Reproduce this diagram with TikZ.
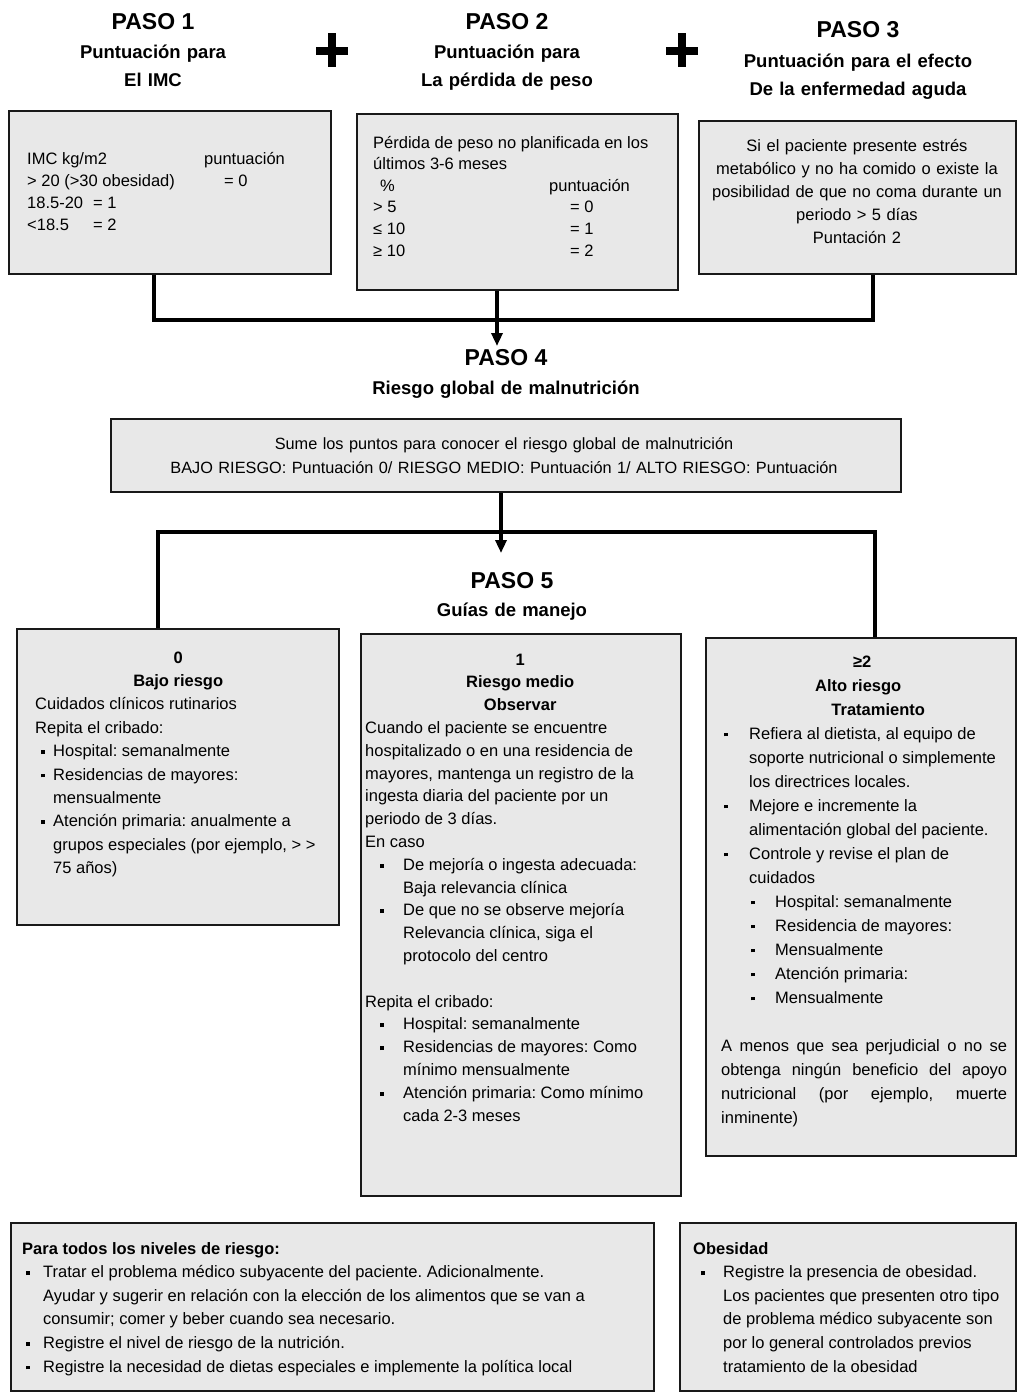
\documentclass[tikz,border=0pt]{standalone}
\usepackage{fontspec}
\setmainfont{Liberation Sans}
\usetikzlibrary{arrows.meta,calc}
\definecolor{boxfill}{RGB}{232,232,232}
\definecolor{edge}{RGB}{25,25,25}
\newcommand\sqb{\rule[2.6pt]{3.8pt}{3.8pt}}
\newcommand\bul[2]{\par\hangindent=#2\hangafter=1\noindent\hspace*{#1}\makebox[0pt]{\sqb}\hspace*{\dimexpr#2-#1\relax}\ignorespaces}
\newcommand\ctr[2]{\hspace*{#1}\makebox[0pt]{#2}}
\newcommand\nl{\hfil\break}
\begin{document}
\frenchspacing
\begin{tikzpicture}[x=1pt,y=-1pt,
  box/.style={draw=edge,fill=boxfill,line width=2pt,inner sep=0pt,anchor=north west},
  body/.style={anchor=base west,inner sep=0pt,align=flush left,font=\fontsize{16.5}{22.4}\selectfont\frenchspacing},
  paso/.style={anchor=base,inner sep=0pt,font=\bfseries\fontsize{23}{26}\selectfont},
  sub/.style={anchor=base,inner sep=0pt,align=center,text width=300pt,font=\bfseries\fontsize{18.5}{28}\selectfont},
  conn/.style={line width=3.5pt,draw=black},
  arr/.style={conn,-{Triangle[length=13pt,width=11pt]}},
  plus/.style={line width=8pt}
]
\useasboundingbox (0,0) rectangle (1017,1400);
\fill[white] (0,0) rectangle (1017,1400);

% ---------- headings ----------
\node[paso] (p1) at (153,29) {PASO 1};
\node[sub] (s1) at (153,58) {Puntuación para\\El IMC};
\node[paso] (p2) at (507,29) {PASO 2};
\node[sub] (s2) at (507,58) {Puntuación para\\La pérdida de peso};
\node[paso] (p3) at (858,37) {PASO 3};
\node[sub] (s3) at (858,67) {Puntuación para el efecto\\De la enfermedad aguda};
\draw[plus] (332,33) -- (332,67);
\draw[plus] (316,51) -- (348,51);
\draw[plus] (682,33) -- (682,67);
\draw[plus] (666,51) -- (698,51);

% ---------- boxes ----------
\node[box,minimum width=322pt,minimum height=163pt] (b1) at (8,110) {};
\node[box,minimum width=321pt,minimum height=176pt] (b2) at (356,113) {};
\node[box,minimum width=317pt,minimum height=153pt] (b3) at (698,120) {};
\node[box,minimum width=790pt,minimum height=73pt] (b4) at (110,418) {};
\node[box,minimum width=322pt,minimum height=296pt] (b0) at (16,628) {};
\node[box,minimum width=320pt,minimum height=562pt] (bm) at (360,633) {};
\node[box,minimum width=310pt,minimum height=518pt] (bh) at (705,637) {};
\node[box,minimum width=643pt,minimum height=168pt] (ba) at (10,1222) {};
\node[box,minimum width=336pt,minimum height=168pt] (bo) at (679,1222) {};

% ---------- box texts ----------
\node[body,text width=300pt,font=\fontsize{16.5}{22}\selectfont] (t1) at (27,164)
 {\makebox[177pt][l]{IMC kg/m2}puntuación\\
  \makebox[197pt][l]{> 20 (>30 obesidad)}= 0\\
  \makebox[66pt][l]{18.5-20}= 1\\
  \makebox[66pt][l]{<18.5}= 2};

\node[body,text width=310pt,font=\fontsize{16.5}{21.6}\selectfont] (t2) at (373,148)
 {Pérdida de peso no planificada en los\\
  últimos 3-6 meses\\
  \hspace*{7pt}\makebox[169pt][l]{\%}puntuación\\
  \makebox[197pt][l]{> 5}= 0\\
  \makebox[197pt][l]{≤ 10}= 1\\
  \makebox[197pt][l]{≥ 10}= 2};

\node[body,anchor=base,align=center,text width=315pt,font=\fontsize{16.5}{23}\selectfont] (t3) at (857,151)
 {Si el paciente presente estrés\\
  metabólico y no ha comido o existe la\\
  posibilidad de que no coma durante un\\
  periodo > 5 días\\
  Puntación 2};

\node[paso] (p4) at (506,365) {PASO 4};
\node[sub,font=\bfseries\fontsize{18.5}{22}\selectfont] (s4) at (506,394) {Riesgo global de malnutrición};

\node[body,anchor=base,align=center,text width=780pt,font=\fontsize{16.3}{24}\selectfont] (t4) at (504,449)
 {Sume los puntos para conocer el riesgo global de malnutrición\\
  BAJO RIESGO: Puntuación 0/ RIESGO MEDIO: Puntuación 1/ ALTO RIESGO: Puntuación};

\node[paso] (p5) at (512,588) {PASO 5};
\node[sub,font=\bfseries\fontsize{18.5}{22}\selectfont] (s5) at (512,616) {Guías de manejo};

\node[body,text width=300pt,font=\fontsize{16.5}{23.4}\selectfont] (t0) at (35,663)
 {\ctr{143pt}{\bfseries 0}\nl
  \ctr{143pt}{\bfseries Bajo riesgo}\nl
  Cuidados clínicos rutinarios\nl
  Repita el cribado:%
  \bul{8pt}{18pt}Hospital: semanalmente%
  \bul{8pt}{18pt}Residencias de mayores:\nl mensualmente%
  \bul{8pt}{18pt}Atención primaria: anualmente a\nl grupos especiales (por ejemplo, > >\nl 75 años)\par};

\node[body,text width=310pt,font=\fontsize{16.5}{22.8}\selectfont] (tm) at (365,665)
 {\ctr{155pt}{\bfseries 1}\nl
  \ctr{155pt}{\bfseries Riesgo medio}\nl
  \ctr{155pt}{\bfseries Observar}\nl
  Cuando el paciente se encuentre\nl
  hospitalizado o en una residencia de\nl
  mayores, mantenga un registro de la\nl
  ingesta diaria del paciente por un\nl
  periodo de 3 días.\nl
  En caso%
  \bul{17pt}{38pt}De mejoría o ingesta adecuada:\nl Baja relevancia clínica%
  \bul{17pt}{38pt}De que no se observe mejoría\nl Relevancia clínica, siga el\nl protocolo del centro%
  \par\vspace{22.8pt}Repita el cribado:%
  \bul{17pt}{38pt}Hospital: semanalmente%
  \bul{17pt}{38pt}Residencias de mayores: Como\nl mínimo mensualmente%
  \bul{17pt}{38pt}Atención primaria: Como mínimo\nl cada 2-3 meses\par};

\node[body,text width=286pt,font=\fontsize{16.5}{24}\selectfont] (th) at (721,667)
 {\ctr{141pt}{\bfseries ≥2}\nl
  \ctr{137pt}{\bfseries Alto riesgo}\nl
  \ctr{157pt}{\bfseries Tratamiento}%
  \bul{5pt}{28pt}Refiera al dietista, al equipo de\nl soporte nutricional o simplemente\nl los directrices locales.%
  \bul{5pt}{28pt}Mejore e incremente la\nl alimentación global del paciente.%
  \bul{5pt}{28pt}Controle y revise el plan de\nl cuidados%
  \bul{32pt}{54pt}Hospital: semanalmente%
  \bul{32pt}{54pt}Residencia de mayores:%
  \bul{32pt}{54pt}Mensualmente%
  \bul{32pt}{54pt}Atención primaria:%
  \bul{32pt}{54pt}Mensualmente%
  \par\vspace{24pt}%
  {\rightskip=0pt\relax A menos que sea perjudicial o no se\linebreak obtenga ningún beneficio del apoyo\linebreak nutricional (por ejemplo, muerte\linebreak inminente)\par}};

\node[body,text width=625pt,font=\fontsize{16.5}{23.6}\selectfont] (ta) at (22,1254)
 {\textbf{Para todos los niveles de riesgo:}%
  \bul{6pt}{21pt}Tratar el problema médico subyacente del paciente. Adicionalmente.\nl Ayudar y sugerir en relación con la elección de los alimentos que se van a\nl consumir; comer y beber cuando sea necesario.%
  \bul{6pt}{21pt}Registre el nivel de riesgo de la nutrición.%
  \bul{6pt}{21pt}Registre la necesidad de dietas especiales e implemente la política local\par};

\node[body,text width=318pt,font=\fontsize{16.5}{23.6}\selectfont] (to) at (693,1254)
 {\textbf{Obesidad}%
  \bul{10pt}{30pt}Registre la presencia de obesidad.\nl Los pacientes que presenten otro tipo\nl de problema médico subyacente son\nl por lo general controlados previos\nl tratamiento de la obesidad\par};

% ---------- connectors ----------
\coordinate (c1) at (154,320);
\coordinate (c3) at (873,320);
\coordinate (j4) at (497,346);
\draw[conn] (b1.south -| c1) -- (c1) -- (c3) -- (b3.south -| c3);
\draw[arr] (b2.south -| j4) -- (j4);

\coordinate (c5l) at (158,532);
\coordinate (c5r) at (875,532);
\coordinate (j5) at (501,553);
\draw[arr] (b4.south -| j5) -- (j5);
\draw[conn] (b0.north -| c5l) -- (c5l) -- (c5r) -- (bh.north -| c5r);
\end{tikzpicture}
\end{document}
